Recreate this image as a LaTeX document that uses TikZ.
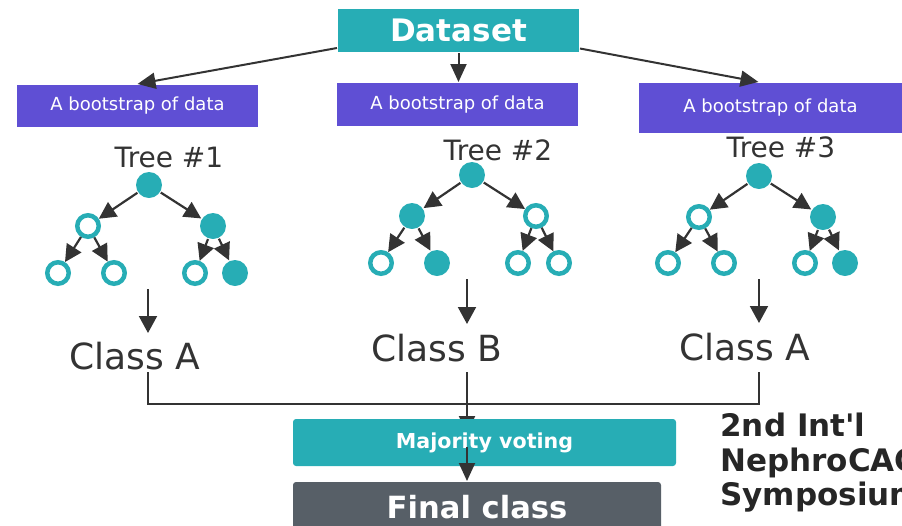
\documentclass[tikz,border=0pt]{standalone}
\usepackage{fontspec}
\setmainfont{DejaVu Sans}
\usetikzlibrary{arrows.meta,backgrounds}
\definecolor{dsteal}{HTML}{27ADB5}
\definecolor{bootviolet}{HTML}{5F4FD4}
\definecolor{finalgray}{HTML}{575F67}
\definecolor{ink}{HTML}{333333}
\begin{document}
\begin{tikzpicture}[x=0.5pt, y=-0.5pt, line width=1pt, color=ink,
  box/.style={inner sep=0pt, text=white},
  full/.style={circle, fill=dsteal, minimum size=13pt, inner sep=0pt},
  hollow/.style={circle, draw=dsteal, fill=white, line width=2.25pt, minimum size=10.75pt, inner sep=0pt},
  edge/.style={-{Triangle[length=8.5pt,width=8.5pt]}, line width=1.1pt},
  big/.style={-{Triangle[length=9pt,width=8pt]}, line width=1pt},
  down/.style={-{Triangle[length=8.5pt,width=9pt]}},
  label/.style={text=ink, inner sep=0pt}]
  \useasboundingbox (0,0) rectangle (902,526);

  % data and the three samples
  \node[box, fill=dsteal, minimum width=120.5pt, minimum height=21.5pt,
        font=\bfseries\fontsize{15.5}{18}\selectfont] (data) at (458.5,30.5) {Dataset};
  \node[box, fill=bootviolet, minimum width=120.5pt, minimum height=21pt,
        font=\fontsize{9}{11}\selectfont] (b1) at (137.5,106) {A bootstrap of data};
  \node[box, fill=bootviolet, minimum width=120.5pt, minimum height=21.5pt,
        font=\fontsize{9}{11}\selectfont] (b2) at (457.5,104.5) {A bootstrap of data};
  \node[box, fill=bootviolet, minimum width=131.5pt, minimum height=25pt,
        font=\fontsize{9}{11}\selectfont] (b3) at (770.5,108) {A bootstrap of data};
  \draw[big] ([yshift=-8.75pt]data.west) -- (b1.north);
  \draw[big] (data.south) -- (data.south |- b2.north);
  \draw[big] ([yshift=-9pt]data.east) -- ([xshift=-6pt]b3.north);

  % tree titles
  \node[label, font=\fontsize{14}{16}\selectfont] (tl1) at (169,157) {Tree \#1};
  \node[label, font=\fontsize{14}{16}\selectfont] (tl2) at (498,150) {Tree \#2};
  \node[label, font=\fontsize{14}{16}\selectfont] (tl3) at (781,147) {Tree \#3};

  % tree 1
  \node[full]   (r1)   at (149,185) {};
  \node[hollow] (r1l)  at (88,226)  {};
  \node[full]   (r1r)  at (213,226) {};
  \node[hollow] (r1ll) at (58,273)  {};
  \node[hollow] (r1lr) at (114,273) {};
  \node[hollow] (r1rl) at (195,273) {};
  \node[full]   (r1rr) at (235,273) {};
  % tree 2
  \node[full]   (r2)   at (472,175) {};
  \node[full]   (r2l)  at (412,216) {};
  \node[hollow] (r2r)  at (536,216) {};
  \node[hollow] (r2ll) at (381,263) {};
  \node[full]   (r2lr) at (437,263) {};
  \node[hollow] (r2rl) at (518,263) {};
  \node[hollow] (r2rr) at (559,263) {};
  % tree 3
  \node[full]   (r3)   at (759,176) {};
  \node[hollow] (r3l)  at (699,217) {};
  \node[full]   (r3r)  at (823,217) {};
  \node[hollow] (r3ll) at (668,263) {};
  \node[hollow] (r3lr) at (724,263) {};
  \node[hollow] (r3rl) at (805,263) {};
  \node[full]   (r3rr) at (845,263) {};
  \foreach \t in {1,2,3} {
    \draw[edge] (r\t) -- (r\t l);
    \draw[edge] (r\t) -- (r\t r);
    \draw[edge] (r\t l) -- (r\t ll);
    \draw[edge] (r\t l) -- (r\t lr);
    \draw[edge] (r\t r) -- (r\t rl);
    \draw[edge] (r\t r) -- (r\t rr);
  }

  % votes of the trees
  \node[label, anchor=base, font=\fontsize{18}{21}\selectfont] (c1) at (135,369) {Class A};
  \node[label, anchor=base, font=\fontsize{18}{21}\selectfont] (c2) at (437,361) {Class B};
  \node[label, anchor=base, font=\fontsize{18}{21}\selectfont] (c3) at (745,360) {Class A};
  \coordinate (k1) at (148,289);
  \coordinate (k2) at (467,279);
  \coordinate (k3) at (759,279);
  \draw[down] (k1) -- ++(0,44);
  \draw[down] (k2) -- ++(0,45);
  \draw[down] (k3) -- ++(0,44);

  % majority vote
  \node[box, fill=dsteal, rounded corners=1.5pt, minimum width=191.5pt, minimum height=23.5pt,
        font=\bfseries\fontsize{10.3}{12}\selectfont] (vote) at (484.5,442.5) {Majority voting};
  \node[box, fill=finalgray, rounded corners=1.5pt, minimum width=184pt, minimum height=25pt,
        font=\bfseries\fontsize{15.3}{18}\selectfont] (final) at (477,507) {Final class};
  \coordinate (j1) at (148,372);
  \coordinate (j2) at (467,372);
  \coordinate (j3) at (759,372);
  \coordinate (bus) at (467,404);
  \draw (j1) |- (bus) -| (j3);
  \begin{pgfonlayer}{background}
    \draw[big, ink] (j2) -- ([yshift=-8pt]j2 |- vote.north);
  \end{pgfonlayer}
  \draw[big] ([yshift=-2pt]j2 |- vote.center) -- (j2 |- final.north);

  \node[anchor=north west, align=left, inner sep=0pt, text=black!85,
        font=\bfseries\fontsize{15.5}{17.25}\selectfont] (symp) at (720,413)
        {2nd Int\textquotesingle l\\NephroCAC\\Symposium};
\end{tikzpicture}
\end{document}
